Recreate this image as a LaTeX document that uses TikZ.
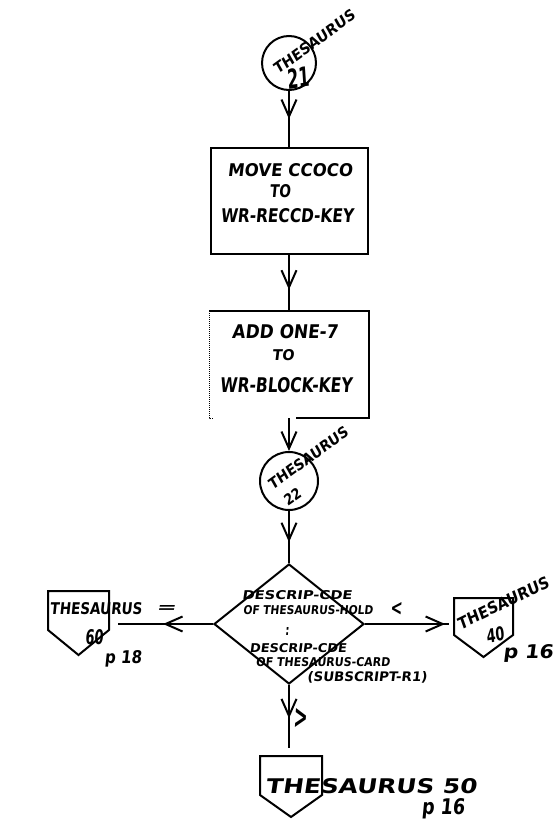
\documentclass[tikz,border=0pt]{standalone}
\usepackage{fontspec}
\usepackage{graphicx}
\usetikzlibrary{arrows.meta,decorations.markings,shapes.geometric}
\newfontfamily\hand[FakeSlant=0.12]{DejaVu Sans}
\newcommand\hw[3]{\resizebox{#1pt}{#2pt}{#3}}
\begin{document}
\begin{tikzpicture}[x=1pt,y=-1pt,line width=2pt,
  txt/.style={inner sep=0pt,font=\hand\bfseries},
  btxt/.style={inner sep=0pt,font=\hand\bfseries},
  midarr/.style={decoration={markings,mark=at position #1 with {\arrow{Straight Barb[length=17pt,width=15pt]}}},postaction={decorate}},
  pbox/.style={rectangle,inner sep=0pt}]
\fill[white] (0,0) rectangle (555,829);
\useasboundingbox (0,0) rectangle (555,829);

% connector 21
\node[draw,circle,minimum size=54pt,inner sep=0pt] (c21) at (289,63) {};
\node[txt,rotate=36] (t21a) at (314,42) {\hw{97}{11}{THESAURUS}};
\node[txt,rotate=8] (t21b) at (298,78) {\hw{22}{20}{21}};

% box 1
\node[draw,pbox,minimum width=157pt,minimum height=106pt] (b1) at (289,201) {};
\node[txt] (b1a) at (290,170) {\hw{125}{13}{MOVE CCOCO}};
\node[txt] (b1b) at (280,191) {\hw{21}{13}{TO}};
\node[txt] (b1c) at (287,216) {\hw{133}{14}{WR-RECCD-KEY}};

% box 2
\node[pbox,minimum width=158pt,minimum height=105pt] (b2) at (289,364.5) {};
\draw (b2.north west) -- (b2.north east) -- (b2.south east) -- ([xshift=-73pt]b2.south east);
\draw[densely dotted,line width=1pt] (b2.north west) -- (b2.south west) -- ++(5,0);
\node[txt] (b2a) at (285,332) {\hw{106}{14}{ADD ONE-7}};
\node[txt] (b2b) at (283,355) {\hw{22}{11}{TO}};
\node[txt] (b2c) at (286,385) {\hw{132}{15}{WR-BLOCK-KEY}};

% connector 22
\node[draw,circle,minimum size=58pt,inner sep=0pt] (c22) at (289,481) {};
\node[txt,rotate=36] (t22a) at (308,458) {\hw{95}{11}{THESAURUS}};
\node[txt,rotate=35] (t22b) at (292,497) {\hw{18}{11}{22}};

% decision
\node[draw,diamond,minimum width=150pt,minimum height=120pt,inner sep=0pt] (d) at (289,624) {};
\node[btxt] (d1) at (297,595) {\hw{110}{9}{DESCRIP-CDE}};
\node[btxt] (d2) at (308,610) {\hw{130}{9}{OF THESAURUS-HOLD}};
\node[btxt] (d3) at (287,631) {\hw{4}{8}{:}};
\node[btxt] (d4) at (298,648) {\hw{97}{9}{DESCRIP-CDE}};
\node[btxt] (d5) at (323,662) {\hw{134}{9}{OF THESAURUS-CARD}};
\node[btxt] (d6) at (367,677) {\hw{120}{10}{(SUBSCRIPT-R1)}};

% off-page connectors
\node[pbox,minimum width=59pt,minimum height=37pt] (pL) at (78.5,610.5) {};
\draw (pL.north west) -- (pL.north east) -- (pL.south east) -- ([yshift=-25pt]pL.south) -- (pL.south west) -- cycle;
\node[txt] (pLa) at (96,609) {\hw{92}{12}{THESAURUS}};
\node[txt] (pLb) at (94,637) {\hw{18}{15}{60}};
\node[txt] (pLc) at (123,659) {\hw{37}{13}{p 18}};

\node[pbox,minimum width=57pt,minimum height=35pt] (pR) at (483.5,616.5) {};
\draw (pR.north west) -- (pR.north east) -- (pR.south east) -- ([yshift=-22pt]pR.south) -- (pR.south west) -- cycle;
\node[txt,rotate=26] (pRa) at (503,603) {\hw{100}{12}{THESAURUS}};
\node[txt,rotate=10] (pRb) at (495,635) {\hw{18}{14}{40}};
\node[txt] (pRc) at (528,653) {\hw{50}{14}{p 16}};

\node[pbox,minimum width=60pt,minimum height=37pt] (pB) at (291,775.5) {};
\draw (pB.north west) -- (pB.north east) -- (pB.south east) -- ([yshift=-22pt]pB.south) -- (pB.south west) -- cycle;
\node[txt] (pBa) at (371,786) {\hw{211}{15}{THESAURUS 50}};
\node[txt] (pBc) at (443,809) {\hw{43}{16}{p 16}};

% flow lines
\draw[midarr=0.5] (c21) -- (c21 |- b1.north);
\draw[midarr=0.62] (b1.south) -- (b2.north);
\draw[-{Straight Barb[length=17pt,width=15pt]}] (b2.south) -- (c22);
\draw[midarr=0.6] (c22) -- (d.north);
\draw[midarr=0.48,shorten >=9pt] (d.west) -- (pL.east |- d.west);
\draw[midarr=0.9,shorten >=5pt] (d.east) -- (pR.west |- d.east);
\draw[midarr=0.47,shorten >=8pt] (d.south) -- (d.south |- pB.north);

% branch labels
\node[txt] (lEq) at (166,609) {\hw{20}{7}{=}};
\node[txt] (lLt) at (396,609) {\hw{12}{13}{<}};
\node[txt] (lGt) at (300,718) {\hw{14}{20}{>}};
\end{tikzpicture}
\end{document}
